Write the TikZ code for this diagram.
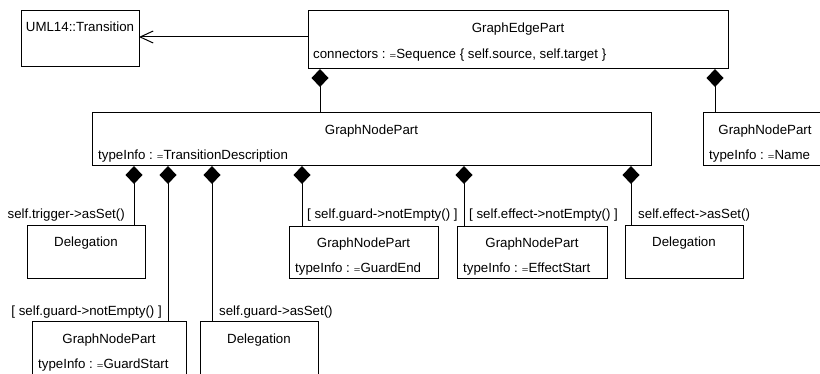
\documentclass[tikz,border=0pt]{standalone}
\usepackage{fontspec}
\setmainfont{Liberation Sans}
\usetikzlibrary{arrows.meta,calc}

% flattened assignment sign used in the attribute rows
\newcommand\assigneq{\raisebox{0.3pt}{\scalebox{0.85}[0.6]{=}}}

\tikzset{
  box/.style={draw, line width=1pt, anchor=north west, inner sep=0pt, outer sep=0pt},
  ttl/.style={anchor=base, inner sep=0pt},
  attr/.style={anchor=base west, inner sep=0pt},
  lbl/.style={inner sep=0pt},
  comp/.style={line width=1pt, {Diamond[length=18pt,width=17pt]}-},
  assoc/.style={line width=1pt, -{Straight Barb[length=13pt,width=12pt]}}
}

\begin{document}
\begin{tikzpicture}[x=1pt, y=-1pt, font=\fontsize{13.3}{15}\selectfont]
\useasboundingbox (0,0) rectangle (820,374);

% classes
\node[box, minimum width=118pt, minimum height=56pt] (trans) at (21,11) {};
\node[ttl] at (80,32) {UML14::Transition};

\node[box, minimum width=420pt, minimum height=58pt] (gep) at (308,11) {};
\node[ttl] at (518,32.5) {GraphEdgePart};
\node[attr] at (313,58.5) {connectors :\hspace{4pt}\assigneq Sequence \{ self.source, self.target \}};

\node[box, minimum width=559pt, minimum height=53pt] (gnp) at (92,113) {};
\node[ttl] at (371.5,134.5) {GraphNodePart};
\node[attr] at (98,159.5) {typeInfo :\hspace{4pt}\assigneq TransitionDescription};

\node[box, minimum width=124pt, minimum height=53pt] (gnpname) at (703,113) {};
\node[ttl] at (765,134.5) {GraphNodePart};
\node[attr] at (709,159.5) {typeInfo :\hspace{4pt}\assigneq Name};

\node[box, minimum width=118pt, minimum height=53pt] (trig) at (27,226) {};
\node[ttl] at (86,247) {Delegation};

\node[box, minimum width=149pt, minimum height=52pt] (gend) at (289,227) {};
\node[ttl] at (363.5,248) {GraphNodePart};
\node[attr] at (295,273) {typeInfo :\hspace{4pt}\assigneq GuardEnd};

\node[box, minimum width=150pt, minimum height=52pt] (estart) at (457,227) {};
\node[ttl] at (532,248) {GraphNodePart};
\node[attr] at (463,273) {typeInfo :\hspace{4pt}\assigneq EffectStart};

\node[box, minimum width=118pt, minimum height=53pt] (effd) at (625,226) {};
\node[ttl] at (684,247) {Delegation};

\node[box, minimum width=154pt, minimum height=60pt] (gstart) at (32,322) {};
\node[ttl] at (109,343.5) {GraphNodePart};
\node[attr] at (38,368.5) {typeInfo :\hspace{4pt}\assigneq GuardStart};

\node[box, minimum width=118pt, minimum height=60pt] (guardd) at (200,322) {};
\node[ttl] at (259,343.5) {Delegation};

% x positions of the composition lines, y of the association
\coordinate (ay) at (0,37);
\coordinate (c0) at (320,0);
\coordinate (c9) at (715,0);
\coordinate (c1) at (134,0);
\coordinate (c2) at (168,0);
\coordinate (c3) at (212,0);
\coordinate (c4) at (302,0);
\coordinate (c5) at (464,0);
\coordinate (c6) at (631,0);

% association to the UML metaclass
\draw[assoc] (gep.west |- ay) -- (trans.east |- ay);

% compositions
\draw[comp] (gep.south -| c0) -- (gnp.north -| c0);
\draw[comp] (gep.south -| c9) -- (gnpname.north -| c9);
\draw[comp] (gnp.south -| c1) -- (trig.north -| c1);
\draw[comp] (gnp.south -| c2) -- (gstart.north -| c2);
\draw[comp] (gnp.south -| c3) -- (guardd.north -| c3);
\draw[comp] (gnp.south -| c4) -- (gend.north -| c4);
\draw[comp] (gnp.south -| c5) -- (estart.north -| c5);
\draw[comp] (gnp.south -| c6) -- (effd.north -| c6);

% role / guard labels
\node[lbl, anchor=base east] at (125,219) {self.trigger->asSet()};
\node[lbl, anchor=base east] at (162,315.5) {[ self.guard->notEmpty() ]};
\node[lbl, anchor=base west] at (219,315.5) {self.guard->asSet()};
\node[lbl, anchor=base west] at (307,219) {[ self.guard->notEmpty() ]};
\node[lbl, anchor=base west] at (469,219) {[ self.effect->notEmpty() ]};
\node[lbl, anchor=base west] at (638,219) {self.effect->asSet()};
\end{tikzpicture}
\end{document}
